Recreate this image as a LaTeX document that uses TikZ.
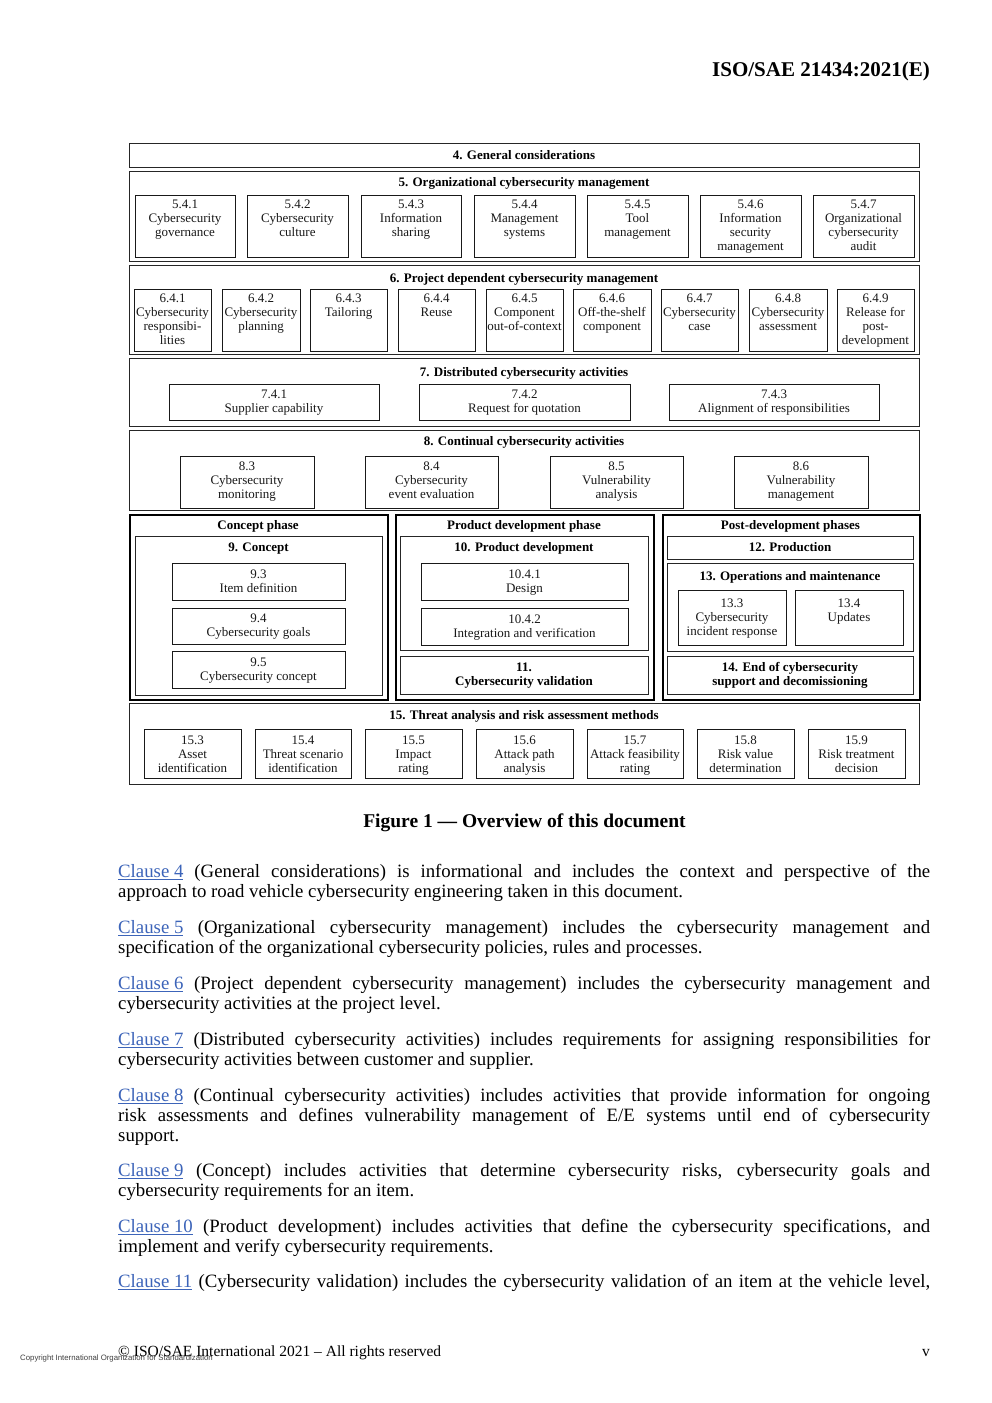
\documentclass[tikz,border=0pt]{standalone}
\usepackage{fontspec}
\setmainfont{Liberation Serif}
\newfontfamily\sansf{Liberation Sans}
\definecolor{linkblue}{RGB}{60,100,185}
\newcommand\lnk[1]{\textcolor{linkblue}{\underline{#1}}}
\tikzset{
 ob/.style={draw=black!85, line width=1pt},
 sb/.style={draw=black!90, line width=0.9pt},
 pb/.style={draw=black, line width=2pt},
 txt/.style={font=\fontsize{13}{14}\selectfont, align=center, inner sep=0pt, text=black!90},
 ttl/.style={font=\fontsize{13}{14}\selectfont\bfseries, align=center, inner sep=0pt},
 body/.style={font=\fontsize{18.8}{20}\selectfont, text width=812pt, align=justify, inner sep=0pt, anchor=north west},
 bodyline/.style={font=\fontsize{18.8}{20}\selectfont, inner sep=0pt, anchor=north west},
}
% [text style]{box style}{name}{x1}{y1}{x2}{y2}{first line y}{text}
\newcommand\mybox[9][txt]{%
 \node[#2, anchor=north west, inner sep=0pt, minimum width={(#6-#4)*1pt}, minimum height={(#7-#5)*1pt}] (#3) at (#4,#5) {};
 \node[#1, anchor=north] (#3t) at ({(#4+#6)/2},{#8-4.4}) {#9};}
\newcommand\ttlnode[4]{\node[ttl, anchor=base] (#1) at (#2,{#3+4.5}) {#4};}
\begin{document}
\begin{tikzpicture}[x=1pt,y=-1pt]
\fill[white] (0,0) rectangle (992,1403);
\useasboundingbox (0,0) rectangle (992,1403);

\node[font=\fontsize{21}{24}\selectfont\bfseries, anchor=base east, inner sep=0pt] (hdr) at (930,76) {ISO/SAE 21434:2021(E)};

% 4
\mybox{ob}{b4}{129}{143}{919}{167}{155}{}
\ttlnode{t4}{524}{155}{4. General considerations}
% 5
\mybox{ob}{b5}{129}{171}{919}{261}{182}{}
\ttlnode{t5}{524}{182}{5. Organizational cybersecurity management}
\mybox{sb}{s541}{135}{195}{235}{257}{204}{5.4.1\\Cybersecurity\\governance}
\mybox{sb}{s542}{247}{195}{348}{257}{204}{5.4.2\\Cybersecurity\\culture}
\mybox{sb}{s543}{361}{195}{461}{257}{204}{5.4.3\\Information\\sharing}
\mybox{sb}{s544}{474}{195}{575}{257}{204}{5.4.4\\Management\\systems}
\mybox{sb}{s545}{587}{195}{688}{257}{204}{5.4.5\\Tool\\management}
\mybox{sb}{s546}{700}{195}{801}{257}{204}{5.4.6\\Information\\security\\management}
\mybox{sb}{s547}{813}{195}{914}{257}{204}{5.4.7\\Organizational\\cybersecurity\\audit}
% 6
\mybox{ob}{b6}{129}{265}{919}{354}{278}{}
\ttlnode{t6}{524}{278}{6. Project dependent cybersecurity management}
\mybox{sb}{s641}{134}{289}{211}{351}{298}{6.4.1\\Cybersecurity\\responsibi-\\lities}
\mybox{sb}{s642}{222}{289}{300}{351}{298}{6.4.2\\Cybersecurity\\planning}
\mybox{sb}{s643}{310}{289}{387}{351}{298}{6.4.3\\Tailoring}
\mybox{sb}{s644}{398}{289}{475}{351}{298}{6.4.4\\Reuse}
\mybox{sb}{s645}{486}{289}{563}{351}{298}{6.4.5\\Component\\out-of-context}
\mybox{sb}{s646}{573}{289}{651}{351}{298}{6.4.6\\Off-the-shelf\\component}
\mybox{sb}{s647}{661}{289}{738}{351}{298}{6.4.7\\Cybersecurity\\case}
\mybox{sb}{s648}{749}{289}{827}{351}{298}{6.4.8\\Cybersecurity\\assessment}
\mybox{sb}{s649}{837}{289}{914}{351}{298}{6.4.9\\Release for\\post-\\development}
% 7
\mybox{ob}{b7}{129}{358}{919}{426}{372}{}
\ttlnode{t7}{524}{372}{7. Distributed cybersecurity activities}
\mybox{sb}{s741}{169}{384}{379}{420}{394}{7.4.1\\Supplier capability}
\mybox{sb}{s742}{419}{384}{630}{420}{394}{7.4.2\\Request for quotation}
\mybox{sb}{s743}{669}{384}{879}{420}{394}{7.4.3\\Alignment of responsibilities}
% 8
\mybox{ob}{b8}{129}{430}{919}{510}{441}{}
\ttlnode{t8}{524}{441}{8. Continual cybersecurity activities}
\mybox{sb}{s83}{180}{456}{314}{508}{466}{8.3\\Cybersecurity\\monitoring}
\mybox{sb}{s84}{365}{456}{498}{508}{466}{8.4\\Cybersecurity\\event evaluation}
\mybox{sb}{s85}{550}{456}{683}{508}{466}{8.5\\Vulnerability\\analysis}
\mybox{sb}{s86}{734}{456}{868}{508}{466}{8.6\\Vulnerability\\management}
% phases
\mybox{pb}{pc}{129}{514}{387}{699}{525}{}
\mybox{pb}{pd}{395}{514}{653}{699}{525}{}
\mybox{pb}{pp}{662}{514}{919}{699}{525}{}
\ttlnode{tpc}{258}{525}{Concept phase}
\ttlnode{tpd}{524}{525}{Product development phase}
\ttlnode{tpp}{790.5}{525}{Post-development phases}
% 9
\mybox{ob}{b9}{135}{536}{382}{695}{547}{}
\ttlnode{t9}{258.5}{547}{9. Concept}
\mybox{sb}{s93}{172}{563}{345}{600}{574}{9.3\\Item definition}
\mybox{sb}{s94}{172}{608}{345}{644}{618}{9.4\\Cybersecurity goals}
\mybox{sb}{s95}{172}{651}{345}{688}{662}{9.5\\Cybersecurity concept}
% 10, 11
\mybox{ob}{b10}{400}{536}{648}{650}{547}{}
\ttlnode{t10}{524}{547}{10. Product development}
\mybox{sb}{s1041}{421}{563}{628}{600}{574}{10.4.1\\Design}
\mybox{sb}{s1042}{421}{608}{628}{645}{619}{10.4.2\\Integration and verification}
\mybox[ttl]{ob}{b11}{400}{656}{648}{694}{667}{11.\\Cybersecurity validation}
% 12, 13, 14
\mybox{ob}{b12}{667}{536}{913}{559}{547}{}
\ttlnode{t12}{790}{547}{12. Production}
\mybox{ob}{b13}{667}{563}{913}{651}{576}{}
\ttlnode{t13}{790}{576}{13. Operations and maintenance}
\mybox{sb}{s133}{678}{590}{786}{645}{603}{13.3\\Cybersecurity\\incident response}
\mybox{sb}{s134}{795}{590}{903}{645}{603}{13.4\\Updates}
\mybox[ttl]{ob}{b14}{667}{656}{913}{694}{667}{14. End of cybersecurity\\support and decomissioning}
% 15
\mybox{ob}{b15}{129}{703}{919}{784}{715}{}
\ttlnode{t15}{524}{715}{15. Threat analysis and risk assessment methods}
\mybox{sb}{s153}{144}{729}{241}{778}{740}{15.3\\Asset\\identification}
\mybox{sb}{s154}{255}{729}{351}{778}{740}{15.4\\Threat scenario\\identification}
\mybox{sb}{s155}{365}{729}{462}{778}{740}{15.5\\Impact\\rating}
\mybox{sb}{s156}{476}{729}{573}{778}{740}{15.6\\Attack path\\analysis}
\mybox{sb}{s157}{587}{729}{683}{778}{740}{15.7\\Attack feasibility\\rating}
\mybox{sb}{s158}{697}{729}{794}{778}{740}{15.8\\Risk value\\determination}
\mybox{sb}{s159}{808}{729}{905}{778}{740}{15.9\\Risk treatment\\decision}

\node[font=\fontsize{19.5}{22}\selectfont\bfseries, anchor=base, inner sep=0pt] (cap) at (524.5,827) {Figure 1 — Overview of this document};

\node[body] (p1) at (118,863) {\strut\lnk{Clause 4} (General considerations) is informational and includes the context and perspective of the\linebreak approach to road vehicle cybersecurity engineering taken in this document.};
\node[body] (p2) at (118,919) {\strut\lnk{Clause 5} (Organizational cybersecurity management) includes the cybersecurity management and\linebreak specification of the organizational cybersecurity policies, rules and processes.};
\node[body] (p3) at (118,975) {\strut\lnk{Clause 6} (Project dependent cybersecurity management) includes the cybersecurity management and\linebreak cybersecurity activities at the project level.};
\node[body] (p4) at (118,1031) {\strut\lnk{Clause 7} (Distributed cybersecurity activities) includes requirements for assigning responsibilities for\linebreak cybersecurity activities between customer and supplier.};
\node[body] (p5) at (118,1087) {\strut\lnk{Clause 8} (Continual cybersecurity activities) includes activities that provide information for ongoing\linebreak risk assessments and defines vulnerability management of E/E systems until end of cybersecurity\linebreak support.};
\node[body] (p6) at (118,1162) {\strut\lnk{Clause 9} (Concept) includes activities that determine cybersecurity risks, cybersecurity goals and\linebreak cybersecurity requirements for an item.};
\node[body] (p7) at (118,1218) {\strut\lnk{Clause 10} (Product development) includes activities that define the cybersecurity specifications, and\linebreak implement and verify cybersecurity requirements.};
\node[bodyline] (p8) at (118,1273) {\makebox[812pt][s]{\strut\lnk{Clause 11} (Cybersecurity validation) includes the cybersecurity validation of an item at the vehicle level,}};

\node[font=\sansf\fontsize{7.8}{9}\selectfont, anchor=base west, inner sep=0pt, text=black!75] (cpy) at (20,1360) {Copyright International Organization for Standardization};
\node[font=\fontsize{15.5}{18}\selectfont, anchor=base west, inner sep=0pt] (ftr) at (118,1356) {© ISO/SAE International 2021 – All rights reserved};
\node[font=\fontsize{15.5}{18}\selectfont, anchor=base east, inner sep=0pt] (pg) at (930,1356) {v};
\end{tikzpicture}
\end{document}
